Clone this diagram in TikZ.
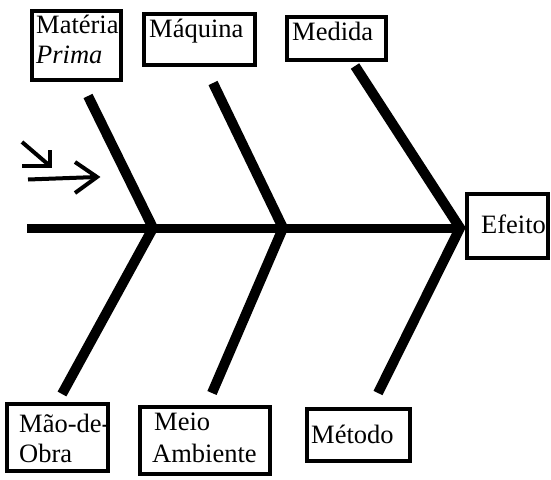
\documentclass[tikz,border=0pt]{standalone}
\usepackage{fontspec}
\setmainfont{Liberation Serif}
\begin{document}
\begin{tikzpicture}[x=1pt,y=-1pt,
  box/.style={draw=black,line width=4.5pt,inner sep=0pt,fill=white},
  txt/.style={anchor=base west,inner sep=0pt,font=\fontsize{26.5}{30}\selectfont},
  bone/.style={line width=10pt,line cap=butt,line join=miter,miter limit=10},
  spine/.style={line width=9pt,line cap=butt},
  arr/.style={line width=4pt,line cap=butt,line join=miter}]
\useasboundingbox (0,0) rectangle (551,479);
% boxes
\node[box,minimum width=89pt,minimum height=69pt] (mp) at (76.5,45.5) {};
\node[box,minimum width=111pt,minimum height=51pt] (maq) at (199.5,39.5) {};
\node[box,minimum width=99pt,minimum height=43pt] (med) at (336.5,38.5) {};
\node[box,minimum width=81pt,minimum height=64pt] (ef) at (507.5,226) {};
\node[box,minimum width=101pt,minimum height=67pt] (mo) at (57.5,437.5) {};
\node[box,minimum width=130pt,minimum height=67pt] (ma) at (205,440.5) {};
\node[box,minimum width=103pt,minimum height=52pt] (met) at (358.5,435) {};
% texts
\node[txt] (tmp1) at (36,33) {Matéria};
\node[txt] (tmp2) at (36,63) {\itshape Prima};
\node[txt] (tmaq) at (149,37) {Máquina};
\node[txt] (tmed) at (292,40) {Medida};
\node[txt] (tef) at (481,233) {Efeito};
\node[txt] (tmo1) at (19,432) {Mão-de-};
\node[txt] (tmo2) at (19,462) {Obra};
\node[txt] (tma1) at (154,430) {Meio};
\node[txt] (tma2) at (152,462) {Ambiente};
\node[txt] (tmet) at (311,443) {Método};
% skeleton coordinates
\coordinate (s) at (27,228);
\coordinate (t1) at (88,96);  \coordinate (j1) at (153,228); \coordinate (b1) at (62,394);
\coordinate (t2) at (213,83); \coordinate (j2) at (283,228); \coordinate (b2) at (212,393);
\coordinate (t3) at (355,66); \coordinate (j3) at (460,228); \coordinate (b3) at (378,393);
\draw[spine] (s) -- (j3);
\draw[bone] (t1) -- (j1) -- (b1);
\draw[bone] (t2) -- (j2) -- (b2);
\draw[bone] (t3) -- (j3) -- (b3);
% arrows at left
\coordinate (d1) at (22,142); \coordinate (d2) at (50,166);
\coordinate (dh1) at (22,166); \coordinate (dh2) at (50,150);
\draw[arr] (d1) -- (d2);
\draw[arr] (dh1) -- (d2) -- (dh2);
\coordinate (h1) at (28,179.5); \coordinate (h2) at (97,177);
\coordinate (hh1) at (75,162); \coordinate (hh2) at (75,193);
\draw[arr] (h1) -- (h2);
\draw[arr] (hh1) -- (h2) -- (hh2);
\end{tikzpicture}
\end{document}
